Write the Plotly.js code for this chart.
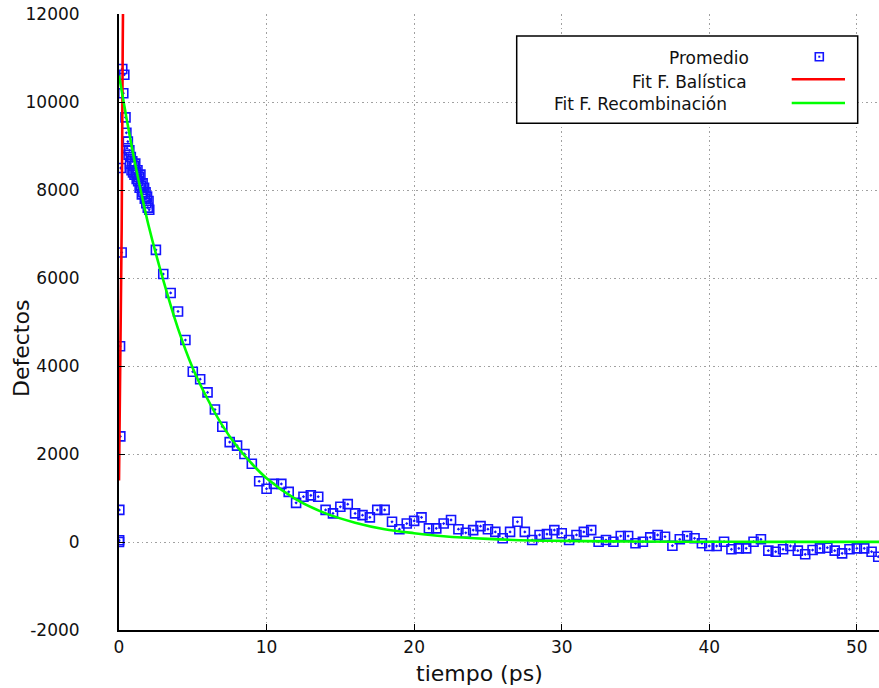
<!DOCTYPE html>
<html>
<head>
<meta charset="utf-8">
<script src="https://cdn.plot.ly/plotly-3.0.1.min.js"></script>
<style>html,body{margin:0;padding:0;background:#fff;}#chart{width:879px;height:688px;}</style>
</head>
<body>
<div id="chart"></div>
<script>
// ---- Data ----
// Promedio (averaged defects), time in ps
const promedioT = [
  0.00, 0.01, 0.02, 0.09, 0.07, 0.18, 0.12, 0.22, 0.36, 0.29, 0.44,
  0.50, 0.55, 0.60, 0.65, 0.70, 0.75, 0.80, 0.85, 0.90, 0.95, 1.00, 1.05, 1.10, 1.15,
  1.20, 1.25, 1.30, 1.35, 1.40, 1.45, 1.50, 1.55, 1.60, 1.65, 1.70, 1.75, 1.80, 1.85,
  1.90, 1.95, 2.00, 2.05,
  2.5, 3.0, 3.5, 4.0, 4.5, 5.0, 5.5, 6.0, 6.5, 7.0, 7.5, 8.0, 8.5, 9.0, 9.5, 10.0,
  10.5, 11.0, 11.5, 12.0, 12.5, 13.0, 13.5, 14.0, 14.5, 15.0, 15.5, 16.0, 16.5, 17.0,
  17.5, 18.0, 18.5, 19.0, 19.5, 20.0, 20.5, 21.0, 21.5, 22.0, 22.5, 23.0, 23.5, 24.0,
  24.5, 25.0, 25.5, 26.0, 26.5, 27.0, 27.5, 28.0, 28.5, 29.0, 29.5, 30.0, 30.5, 31.0,
  31.5, 32.0, 32.5, 33.0, 33.5, 34.0, 34.5, 35.0, 35.5, 36.0, 36.5, 37.0, 37.5, 38.0,
  38.5, 39.0, 39.5, 40.0, 40.5, 41.0, 41.5, 42.0, 42.5, 43.0, 43.5, 44.0, 44.5, 45.0,
  45.5, 46.0, 46.5, 47.0, 47.5, 48.0, 48.5, 49.0, 49.5, 50.0, 50.5, 51.0, 51.45
];
const promedioV = [
  0, 40, 730, 2400, 4450, 6580, 8500, 10750, 10620, 10200, 9650,
  9300, 8950, 9100, 8800, 8900, 8600, 8750, 8450, 8650, 8400, 8550, 8350, 8600, 8400,
  8250, 8450, 8200, 8300, 8050, 8350, 8100, 7900, 8150, 7950, 8050, 7800, 7950, 7700,
  7850, 7600, 7750, 7550,
  6640, 6090, 5660, 5240, 4590, 3870, 3700, 3400, 3010, 2620, 2270, 2190, 2000, 1780, 1380, 1210,
  1320, 1320, 1140, 890, 1030, 1060, 1030, 730, 650, 800, 860, 650, 610, 560,
  730, 730, 460, 290, 420, 480, 560, 310, 310, 420, 500, 290, 210, 270,
  360, 290, 230, 85, 230, 460, 230, 45, 160, 180, 270, 200, 45, 160,
  230, 270, 7, 45, 7, 136, 136, -30, 7, 106, 159, 121, -84, 61,
  136, 84, -30, -91, -91, 7, -166, -144, -144, 7, 61, -197, -220, -166,
  -91, -197, -280, -182, -144, -129, -197, -258, -166, -144, -144, -220, -334
];
// Fit F. Balística (ballistic phase fit)
const balisticaT = [0.00, 0.07, 0.135, 0.18, 0.25, 0.30];
const balisticaV = [1400, 3300, 5950, 7100, 11180, 13300];
// Fit F. Recombinación (recombination fit)
const recombT = [0, 0.5, 1, 1.5, 2, 3, 4, 5, 6, 7, 8, 9, 10, 12, 14, 16, 18, 20, 22, 25, 28, 30, 35, 40, 45, 51.5];
const recombV = [10600, 9650, 8750, 7950, 7200, 5950, 4850, 3950, 3250, 2650, 2170, 1780, 1450, 970, 650, 440, 290, 200, 130, 70, 35, 25, 10, 5, 3, 2];
// Tick labels
const xTickVals = [0, 10, 20, 30, 40, 50];
const yTickVals = [-2000, 0, 2000, 4000, 6000, 8000, 10000, 12000];
const legendNames = ['Promedio', 'Fit F. Balística', 'Fit F. Recombinación'];
const xTitle = 'tiempo (ps)';
const yTitle = 'Defectos';

// ---- Layout geometry (pixels) ----
const W = 879, H = 688;
const L = 119, R = 0, T = 14, B = 58;
const PW = W - L - R, PH = H - T - B;
const px = x => (x - L) / PW;
const py = y => (H - B - y) / PH;

const font = 'DejaVu Sans, Liberation Sans, sans-serif';
const txt = '#111111';

const traces = [
  {
    x: promedioT, y: promedioV, mode: 'markers', type: 'scatter', name: legendNames[0],
    marker: {symbol: 'square-open-dot', size: 9, color: 'rgb(20,20,255)', line: {width: 1.6, color: 'rgb(20,20,255)'}},
    showlegend: false
  },
  {
    x: balisticaT, y: balisticaV, mode: 'lines', type: 'scatter', name: legendNames[1],
    line: {color: 'rgb(255,0,0)', width: 2.6}, showlegend: false
  },
  {
    x: recombT, y: recombV, mode: 'lines', type: 'scatter', name: legendNames[2],
    line: {color: 'rgb(0,255,0)', width: 2.6, shape: 'spline'}, showlegend: false
  }
];

// Custom legend box (gnuplot style: text right-aligned, sample on right)
const mk = {cx: 819.3, cy: 56.7, h: 4};
const shapes = [
  {type: 'rect', xref: 'paper', yref: 'paper', x0: px(516.7), x1: px(857.7), y0: py(123.3), y1: py(36),
   line: {color: 'black', width: 1.5}, fillcolor: 'white', layer: 'above'},
  {type: 'line', xref: 'paper', yref: 'paper', x0: px(791.7), x1: px(845), y0: py(79.3), y1: py(79.3),
   line: {color: 'rgb(255,0,0)', width: 2.6}, layer: 'above'},
  {type: 'line', xref: 'paper', yref: 'paper', x0: px(791.7), x1: px(845), y0: py(103), y1: py(103),
   line: {color: 'rgb(0,255,0)', width: 2.6}, layer: 'above'},
  {type: 'rect', xref: 'paper', yref: 'paper', x0: px(mk.cx - mk.h), x1: px(mk.cx + mk.h), y0: py(mk.cy + mk.h), y1: py(mk.cy - mk.h),
   line: {color: 'rgb(20,20,255)', width: 1.6}, layer: 'above'},
  {type: 'rect', xref: 'paper', yref: 'paper', x0: px(mk.cx - 1), x1: px(mk.cx + 1), y0: py(mk.cy + 1), y1: py(mk.cy - 1),
   line: {width: 0}, fillcolor: 'rgb(20,20,255)', layer: 'above'}
];
const annotations = [
  {text: legendNames[0], x: px(751), y: py(57.7)},
  {text: legendNames[1], x: px(749), y: py(81.7)},
  {text: legendNames[2], x: px(729), y: py(104)}
].map(a => Object.assign({xref: 'paper', yref: 'paper', xanchor: 'right', yanchor: 'middle', showarrow: false,
  font: {family: font, size: 17, color: txt}}, a));
// Axis titles placed like the reference
annotations.push({text: yTitle, xref: 'paper', yref: 'paper', x: px(22), y: py(349), xanchor: 'center', yanchor: 'middle',
  textangle: -90, showarrow: false, font: {family: font, size: 22, color: txt}});
annotations.push({text: xTitle, xref: 'paper', yref: 'paper', x: px(479), y: py(673), xanchor: 'center', yanchor: 'middle',
  showarrow: false, font: {family: font, size: 22, color: txt}});

const layout = {
  width: W, height: H,
  margin: {l: L, r: R, t: T, b: B, pad: 0},
  paper_bgcolor: 'white', plot_bgcolor: 'white',
  showlegend: false,
  font: {family: font, size: 17, color: txt},
  xaxis: {
    range: [0, 51.5], tickvals: xTickVals, ticktext: xTickVals.map(String),
    showgrid: true, gridcolor: '#a0a0a0', griddash: '1.5px,3px', gridwidth: 1,
    zeroline: false, showline: true, linecolor: 'black', linewidth: 2, mirror: false,
    ticks: 'inside', ticklen: 6, tickcolor: 'black', tickwidth: 1,
    ticklabelstandoff: 1,
    tickfont: {family: font, size: 17, color: txt}
  },
  yaxis: {
    range: [-2000, 12000], tickvals: yTickVals, ticktext: yTickVals.map(String),
    showgrid: true, gridcolor: '#a0a0a0', griddash: '1.5px,3px', gridwidth: 1,
    zeroline: false, showline: true, linecolor: 'black', linewidth: 2, mirror: false,
    ticks: 'inside', ticklen: 6, tickcolor: 'black', tickwidth: 1,
    ticklabelstandoff: 34,
    tickfont: {family: font, size: 17, color: txt}
  },
  shapes: shapes,
  annotations: annotations
};

Plotly.newPlot('chart', traces, layout, {displayModeBar: false, staticPlot: true});
</script>
</body>
</html>
